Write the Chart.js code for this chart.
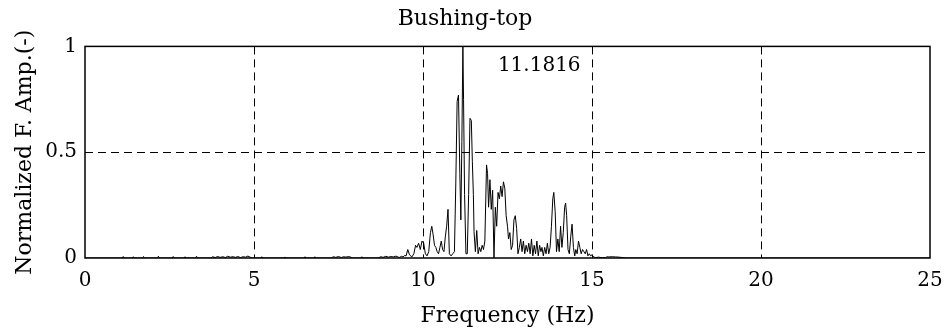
<!DOCTYPE html>
<html lang="en">
<head>
    <meta charset="UTF-8">
    <title>Bushing-top</title>
    <script src="https://cdn.jsdelivr.net/npm/chart.js"></script>
    <style>
        body {
            margin: 0;
            background: white;
        }
        .chart-box {
            width: 948px;
            height: 335px;
        }
    </style>
</head>
<body>
<div class="chart-box">
    <canvas id="spectrumChart"></canvas>
</div>

<script>
    // frequency (Hz) and normalized Fourier amplitude
    const freqs = [
        0, 1.10, 1.13, 1.16, 1.40, 1.43, 1.46, 1.70, 1.73, 1.76, 2.14, 2.17, 2.20, 2.58, 2.61, 2.64, 2.93, 2.96, 2.99, 3.27, 3.30, 3.33,
        3.72, 3.78, 3.85, 3.92, 4.00, 4.08, 4.15, 4.22, 4.30, 4.38, 4.45, 4.52, 4.60, 4.68, 4.75, 4.82, 4.90, 4.95,
        5.20, 5.23, 5.26, 5.89, 5.92, 5.95, 6.48, 6.51, 6.54, 6.77, 6.80, 6.83,
        7.28, 7.35, 7.42, 7.50, 7.58, 7.65, 7.72, 7.80, 7.88, 7.92, 8.16, 8.19, 8.22,
        8.68, 8.75, 8.82, 8.90, 8.98, 9.05, 9.12, 9.20, 9.27, 9.31, 9.36, 9.41, 9.46, 9.50, 9.55, 9.60, 9.67, 9.73, 9.78, 9.82, 9.87, 9.92, 9.97,
        10.02, 10.07, 10.12, 10.17, 10.22, 10.26, 10.30, 10.34, 10.38, 10.42, 10.46, 10.50, 10.54, 10.58, 10.62, 10.66, 10.70, 10.74, 10.78, 10.83, 10.88, 10.93, 10.97,
        11.01, 11.05, 11.09, 11.12, 11.15, 11.18, 11.20, 11.23, 11.27, 11.31, 11.35, 11.39, 11.43, 11.46, 11.49, 11.51, 11.55, 11.59, 11.63, 11.67, 11.71, 11.75, 11.79, 11.83, 11.88, 11.91, 11.94, 11.98,
        12.02, 12.06, 12.10, 12.14, 12.18, 12.22, 12.26, 12.30, 12.34, 12.38, 12.42, 12.46, 12.50, 12.53, 12.57, 12.61, 12.65, 12.69, 12.73, 12.77, 12.81, 12.85, 12.89, 12.93, 12.97,
        13.01, 13.05, 13.09, 13.13, 13.17, 13.21, 13.25, 13.29, 13.33, 13.37, 13.41, 13.45, 13.49, 13.52, 13.56, 13.60, 13.64, 13.68, 13.72, 13.76, 13.80, 13.84, 13.87, 13.91, 13.95,
        13.99, 14.03, 14.07, 14.11, 14.15, 14.19, 14.22, 14.25, 14.29, 14.33, 14.37, 14.41, 14.45, 14.49, 14.52, 14.56, 14.60, 14.64, 14.68, 14.72, 14.76, 14.80, 14.84, 14.88, 14.92,
        14.96, 15.00, 15.05, 15.10, 15.20, 15.30, 15.40, 15.45, 15.50, 15.60, 15.70, 15.80, 15.90, 16.00, 25
    ];
    const amps = [
        0, 0, 0.007, 0, 0, 0.006, 0, 0, 0.007, 0, 0, 0.008, 0, 0, 0.007, 0, 0, 0.006, 0, 0, 0.008, 0,
        0, 0.006, 0.002, 0.007, 0.003, 0.006, 0.002, 0.008, 0.004, 0.006, 0.003, 0.007, 0.002, 0.006, 0.004, 0.009, 0.003, 0,
        0, 0.006, 0, 0, 0.005, 0, 0, 0.006, 0, 0, 0.006, 0,
        0, 0.006, 0.003, 0.007, 0.002, 0.006, 0.004, 0.007, 0.003, 0, 0, 0.006, 0,
        0, 0.006, 0.003, 0.008, 0.004, 0.007, 0.005, 0.009, 0.004, 0.003, 0.008, 0.005, 0.012, 0.01, 0.04, 0.015, 0.005, 0.02, 0.06, 0.05, 0.07, 0.04, 0.08,
        0.07, 0.02, 0.01, 0.03, 0.12, 0.15, 0.11, 0.06, 0.05, 0.03, 0.02, 0.05, 0.08, 0.04, 0.03, 0.10, 0.15, 0.23, 0.02, 0.01, 0.02, 0.03, 0.35,
        0.74, 0.77, 0.40, 0.18, 0.55, 1.0, 0.75, 0.30, 0.02, 0.02, 0.30, 0.66, 0.65, 0.455, 0.30, 0.125, 0.03, 0.13, 0.02, 0.05, 0.03, 0.06, 0.04, 0.08, 0.44, 0.40, 0.24, 0.37,
        0.23, 0.32, 0.0, 0.24, 0.15, 0.31, 0.28, 0.34, 0.29, 0.36, 0.33, 0.20, 0.15, 0.09, 0.12, 0.04, 0.06, 0.18, 0.20, 0.14, 0.02, 0.05, 0.09, 0.03, 0.08,
        0.02, 0.06, 0.03, 0.07, 0.02, 0.09, 0.01, 0.06, 0.02, 0.08, 0.01, 0.06, 0.03, 0.05, 0.01, 0.05, 0.02, 0.07, 0.02, 0.05, 0.15, 0.28, 0.31, 0.22, 0.03,
        0.09, 0.03, 0.15, 0.05, 0.12, 0.24, 0.26, 0.20, 0.04, 0.02, 0.10, 0.16, 0.05, 0.01, 0.04, 0.02, 0.08, 0.05, 0.02, 0.04, 0.03, 0.02, 0.04, 0.01, 0.02,
        0.01, 0.015, 0.005, 0.002, 0.004, 0.001, 0.002, 0.006, 0.005, 0.006, 0.005, 0.004, 0.002, 0, 0
    ];

    const xTicks = [0, 5, 10, 15, 20, 25];
    const yTicks = [0, 0.5, 1];
    const peakFreq = 11.18;
    const peakLabel = '11.1816';

    const serif = "'DejaVu Serif', serif";
    Chart.defaults.font.family = serif;
    Chart.defaults.color = '#000';

    // frame box + peak label
    const framePlugin = {
        id: 'frame',
        afterDatasetsDraw(chart) {
            const ctx = chart.ctx;
            const a = chart.chartArea;
            ctx.save();
            ctx.strokeStyle = '#000';
            ctx.lineWidth = 1.5;
            ctx.setLineDash([]);
            ctx.strokeRect(a.left, a.top, a.right - a.left, a.bottom - a.top);

            const x = chart.scales.x.getPixelForValue(peakFreq) + 35;
            const y = chart.scales.y.getPixelForValue(1) + 19;
            ctx.font = '20px ' + serif;
            ctx.fillStyle = '#000';
            ctx.textAlign = 'left';
            ctx.textBaseline = 'middle';
            ctx.fillText(peakLabel, x, y);
            ctx.restore();
        }
    };

    const points = freqs.map((f, i) => ({ x: f, y: amps[i] }));

    new Chart(document.getElementById('spectrumChart'), {
        type: 'line',
        data: {
            datasets: [{
                data: points,
                borderColor: '#000',
                borderWidth: 1,
                pointRadius: 0,
                tension: 0,
                fill: false
            }]
        },
        options: {
            responsive: true,
            maintainAspectRatio: false,
            animation: false,
            layout: { padding: { left: 0, right: 18, top: 0, bottom: 0 } },
            plugins: {
                legend: { display: false },
                tooltip: { enabled: false },
                title: {
                    display: true,
                    text: 'Bushing-top',
                    color: '#000',
                    font: { size: 22, weight: 'normal' },
                    padding: { top: 6, bottom: 14 }
                }
            },
            scales: {
                x: {
                    type: 'linear',
                    min: 0,
                    max: 25,
                    afterBuildTicks: s => { s.ticks = xTicks.map(v => ({ value: v })); },
                    afterFit: s => { s.height = 77; s.paddingLeft = 0; s.paddingRight = 0; },
                    grid: {
                        drawTicks: false,
                        lineWidth: 1,
                        color: c => (c.tick && (c.tick.value === 0 || c.tick.value === 25)) ? 'rgba(0,0,0,0)' : '#000'
                    },
                    border: { display: false, dash: [8, 5] },
                    ticks: { padding: 11, font: { size: 20 }, maxRotation: 0, callback: v => String(v) },
                    title: {
                        display: true,
                        text: 'Frequency (Hz)',
                        font: { size: 22 },
                        padding: { top: 0, bottom: 6 }
                    }
                },
                y: {
                    min: 0,
                    max: 1,
                    afterBuildTicks: s => { s.ticks = yTicks.map(v => ({ value: v })); },
                    afterFit: s => { s.width = 85; },
                    grid: {
                        drawTicks: false,
                        lineWidth: 1,
                        color: c => (c.tick && (c.tick.value === 0 || c.tick.value === 1)) ? 'rgba(0,0,0,0)' : '#000'
                    },
                    border: { display: false, dash: [8, 5] },
                    ticks: { padding: 8, font: { size: 20 }, callback: v => String(v) },
                    title: {
                        display: true,
                        text: 'Normalized F. Amp.(-)',
                        font: { size: 22 },
                        padding: { top: 12, bottom: 0 }
                    }
                }
            }
        },
        plugins: [framePlugin]
    });
</script>
</body>
</html>
